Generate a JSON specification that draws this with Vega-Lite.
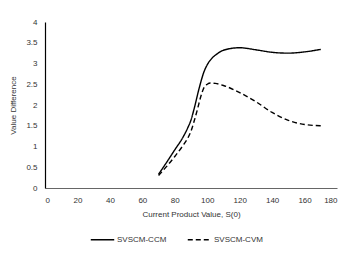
{
  "$schema": "https://vega.github.io/schema/vega-lite/v6.json",
  "width": 292,
  "height": 166,
  "autosize": {"type": "none"},
  "padding": {"left": 45, "top": 22, "right": 21, "bottom": 65},
  "background": "white",
  "config": {
    "view": {"stroke": null},
    "font": "Liberation Sans",
    "axis": {"grid": false, "ticks": false, "labelFontSize": 8, "labelColor": "#333", "titleFontSize": 8, "titleFontWeight": "normal", "titleColor": "#333"}
  },
  "data": {
    "values": [
      {"s": 70, "v": 0.33, "m": "SVSCM-CCM"},
      {"s": 75, "v": 0.62, "m": "SVSCM-CCM"},
      {"s": 80, "v": 0.92, "m": "SVSCM-CCM"},
      {"s": 85, "v": 1.22, "m": "SVSCM-CCM"},
      {"s": 88, "v": 1.45, "m": "SVSCM-CCM"},
      {"s": 90, "v": 1.64, "m": "SVSCM-CCM"},
      {"s": 92, "v": 1.92, "m": "SVSCM-CCM"},
      {"s": 95, "v": 2.4, "m": "SVSCM-CCM"},
      {"s": 98, "v": 2.8, "m": "SVSCM-CCM"},
      {"s": 100, "v": 2.97, "m": "SVSCM-CCM"},
      {"s": 103, "v": 3.13, "m": "SVSCM-CCM"},
      {"s": 106, "v": 3.23, "m": "SVSCM-CCM"},
      {"s": 110, "v": 3.32, "m": "SVSCM-CCM"},
      {"s": 120, "v": 3.38, "m": "SVSCM-CCM"},
      {"s": 130, "v": 3.33, "m": "SVSCM-CCM"},
      {"s": 140, "v": 3.27, "m": "SVSCM-CCM"},
      {"s": 150, "v": 3.25, "m": "SVSCM-CCM"},
      {"s": 160, "v": 3.28, "m": "SVSCM-CCM"},
      {"s": 170, "v": 3.34, "m": "SVSCM-CCM"},
      {"s": 70, "v": 0.3, "m": "SVSCM-CVM"},
      {"s": 75, "v": 0.52, "m": "SVSCM-CVM"},
      {"s": 80, "v": 0.76, "m": "SVSCM-CVM"},
      {"s": 85, "v": 1.02, "m": "SVSCM-CVM"},
      {"s": 88, "v": 1.2, "m": "SVSCM-CVM"},
      {"s": 90, "v": 1.37, "m": "SVSCM-CVM"},
      {"s": 92, "v": 1.62, "m": "SVSCM-CVM"},
      {"s": 94, "v": 1.9, "m": "SVSCM-CVM"},
      {"s": 96, "v": 2.2, "m": "SVSCM-CVM"},
      {"s": 98, "v": 2.42, "m": "SVSCM-CVM"},
      {"s": 100, "v": 2.5, "m": "SVSCM-CVM"},
      {"s": 102, "v": 2.53, "m": "SVSCM-CVM"},
      {"s": 105, "v": 2.52, "m": "SVSCM-CVM"},
      {"s": 110, "v": 2.47, "m": "SVSCM-CVM"},
      {"s": 120, "v": 2.3, "m": "SVSCM-CVM"},
      {"s": 130, "v": 2.08, "m": "SVSCM-CVM"},
      {"s": 140, "v": 1.82, "m": "SVSCM-CVM"},
      {"s": 150, "v": 1.63, "m": "SVSCM-CVM"},
      {"s": 160, "v": 1.53, "m": "SVSCM-CVM"},
      {"s": 170, "v": 1.5, "m": "SVSCM-CVM"}
    ]
  },
  "mark": {"type": "line", "interpolate": "monotone", "color": "black", "strokeWidth": 1.4},
  "encoding": {
    "x": {
      "field": "s", "type": "quantitative",
      "scale": {"domain": [0, 180], "nice": false},
      "axis": {"values": [0, 20, 40, 60, 80, 100, 120, 140, 160, 180], "title": "Current Product Value, S(0)", "domainColor": "#666", "domainWidth": 1, "labelPadding": 8, "titlePadding": 6}
    },
    "y": {
      "field": "v", "type": "quantitative",
      "scale": {"domain": [0, 4], "nice": false},
      "axis": {"values": [0, 0.5, 1, 1.5, 2, 2.5, 3, 3.5, 4], "format": "~g", "title": "Value Difference", "domainColor": "black", "domainWidth": 1.2, "labelPadding": 8, "titlePadding": 8}
    },
    "strokeDash": {
      "field": "m", "type": "nominal",
      "scale": {"domain": ["SVSCM-CCM", "SVSCM-CVM"], "range": [[1, 0], [5, 3]]},
      "legend": {"title": null, "orient": "none", "direction": "horizontal", "legendX": 45, "legendY": 205, "symbolType": "stroke", "symbolSize": 550, "symbolStrokeWidth": 1.4, "symbolStrokeColor": "black", "labelFontSize": 8, "labelColor": "#333", "columnPadding": 17, "labelOffset": 2}
    }
  }
}
